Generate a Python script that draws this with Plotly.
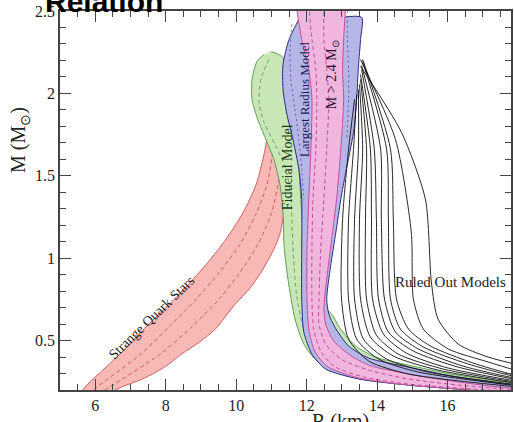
import plotly.graph_objects as go

# ---------------- Strange quark stars (red band) ----------------
quark_lo_R = [5.57, 5.71, 6.70, 7.46, 8.25, 8.96, 9.61, 10.17, 10.57, 10.82, 10.96, 11.07, 11.19]
quark_lo_M = [0.176, 0.218, 0.418, 0.588, 0.752, 0.915, 1.085, 1.267, 1.449, 1.661, 1.873, 2.055, 2.158]
quark_hi_R = [11.36, 11.47, 11.53, 11.53, 11.50, 11.35, 11.24, 11.07, 10.71, 10.37, 9.97, 9.41, 8.96, 8.45, 7.97, 7.34, 6.75, 6.36]
quark_hi_M = [2.206, 2.158, 1.964, 1.721, 1.479, 1.267, 1.145, 1.055, 0.915, 0.812, 0.721, 0.570, 0.491, 0.418, 0.339, 0.267, 0.218, 0.176]
quark_d1_R = [5.82, 6.05, 7.29, 8.11, 8.87, 9.52, 10.11, 10.56, 10.88, 11.05, 11.16, 11.21]
quark_d1_M = [0.176, 0.218, 0.418, 0.588, 0.752, 0.915, 1.085, 1.267, 1.449, 1.661, 1.873, 2.055]
quark_d2_R = [6.10, 6.41, 7.85, 8.76, 9.52, 10.11, 10.62, 10.99, 11.19, 11.30, 11.36, 11.36]
quark_d2_M = [0.176, 0.218, 0.418, 0.588, 0.752, 0.915, 1.085, 1.267, 1.449, 1.661, 1.873, 2.055]

# ---------------- Fiducial model (green band) ----------------
fid_in_R = [10.79, 10.59, 10.45, 10.45, 10.59, 10.82, 11.07, 11.24, 11.33, 11.36, 11.47, 11.67, 11.92, 12.29, 12.91, 13.76, 15.17, 16.58, 17.99]
fid_in_M = [2.236, 2.194, 2.085, 1.964, 1.855, 1.733, 1.600, 1.449, 1.279, 1.073, 0.873, 0.630, 0.479, 0.376, 0.303, 0.261, 0.224, 0.200, 0.176]
fid_out_R = [10.99, 11.30, 11.50, 11.64, 11.78, 11.92, 12.12, 12.40, 12.71, 12.96, 13.39, 13.95, 14.89, 16.10, 17.43, 18.28]
fid_out_M = [2.254, 2.224, 2.133, 1.903, 1.539, 1.115, 0.842, 0.721, 0.661, 0.570, 0.467, 0.400, 0.351, 0.297, 0.255, 0.230]
fid_d_R = [10.93, 10.70, 10.65, 10.79, 11.13, 11.41, 11.55, 11.61, 11.72, 11.92, 12.26, 12.83]
fid_d_M = [2.206, 2.085, 1.946, 1.824, 1.679, 1.539, 1.376, 1.073, 0.770, 0.570, 0.430, 0.339]

# ---------------- Largest radius model (blue band) ----------------
lrm_in_R = [11.78, 11.50, 11.33, 11.33, 11.44, 11.61, 11.78, 11.86, 11.86, 11.86, 11.92, 12.15, 12.54, 13.47, 14.89, 16.30, 17.99]
lrm_in_M = [2.449, 2.327, 2.176, 2.024, 1.873, 1.721, 1.539, 1.357, 1.055, 0.752, 0.552, 0.418, 0.327, 0.267, 0.230, 0.206, 0.182]
lrm_out_R = [12.99, 13.56, 13.53, 13.47, 13.42, 13.33, 13.11, 12.97, 12.83, 12.68, 12.57, 12.63, 12.80, 13.19, 13.76, 14.89, 16.10, 17.43, 18.28]
lrm_out_M = [2.461, 2.461, 2.327, 2.164, 1.964, 1.764, 1.521, 1.358, 1.158, 0.952, 0.752, 0.661, 0.582, 0.467, 0.394, 0.339, 0.285, 0.242, 0.218]
lrm_d1_R = [11.58, 11.53, 11.55, 11.67, 11.78, 11.86, 11.92]
lrm_d1_M = [2.418, 2.267, 2.085, 1.903, 1.721, 1.539, 1.358]
lrm_d2_R = [13.16, 13.16, 13.19, 13.19, 13.14]
lrm_d2_M = [2.503, 2.327, 2.145, 1.964, 1.721]

# ---------------- M > 2.4 Msun (pink band) ----------------
heavy_in_R = [11.70, 11.86, 12.06, 12.15, 12.12, 12.06, 12.01, 12.01, 12.06, 12.23, 12.57, 13.47, 14.89, 16.30, 17.99]
heavy_in_M = [2.539, 2.327, 2.145, 1.964, 1.661, 1.358, 1.055, 0.752, 0.570, 0.436, 0.345, 0.273, 0.230, 0.206, 0.182]
heavy_out_R = [13.11, 13.05, 13.02, 13.05, 12.97, 12.85, 12.71, 12.57, 12.49, 12.54, 12.77, 13.19, 13.76, 14.89, 16.10, 17.43, 18.28]
heavy_out_M = [2.539, 2.327, 2.145, 1.964, 1.661, 1.358, 1.115, 0.873, 0.691, 0.600, 0.497, 0.418, 0.351, 0.297, 0.255, 0.218, 0.200]
heavy_d1_R = [12.06, 12.15, 12.26, 12.29, 12.26, 12.18, 12.15, 12.15, 12.20, 12.40, 12.77, 13.61, 14.89, 16.30, 17.99]
heavy_d1_M = [2.539, 2.327, 2.145, 1.964, 1.661, 1.358, 1.055, 0.752, 0.570, 0.436, 0.345, 0.279, 0.236, 0.212, 0.188]
heavy_d2_R = [12.49, 12.49, 12.57, 12.63, 12.57, 12.49, 12.40, 12.35, 12.35, 12.54, 12.97, 13.76, 14.89, 16.30, 17.99]
heavy_d2_M = [2.539, 2.327, 2.145, 1.964, 1.661, 1.358, 1.055, 0.752, 0.600, 0.479, 0.388, 0.321, 0.267, 0.230, 0.200]

# ---------------- Ruled out equations of state (black) ----------------
ruled_R = [
    [13.36, 13.19, 13.02, 12.99, 13.19, 13.76, 14.89, 18.28],
    [13.42, 13.33, 13.19, 13.19, 13.42, 14.04, 15.17, 18.28],
    [13.47, 13.47, 13.36, 13.36, 13.61, 14.27, 15.45, 18.28],
    [13.50, 13.59, 13.50, 13.53, 13.81, 14.46, 15.73, 18.28],
    [13.53, 13.70, 13.67, 13.70, 13.98, 14.60, 15.88, 18.28],
    [13.53, 13.81, 13.84, 13.87, 14.18, 14.83, 16.02, 18.28],
    [13.56, 13.92, 13.98, 14.04, 14.32, 15.03, 16.30, 18.28],
    [13.56, 14.10, 14.12, 14.21, 14.52, 15.17, 16.44, 18.28],
    [13.59, 14.27, 14.32, 14.38, 14.66, 15.31, 16.58, 18.28],
    [13.59, 14.38, 14.46, 14.55, 14.89, 15.51, 16.72, 18.28],
    [13.53, 14.52, 14.97, 15.03, 15.31, 16.02, 17.15, 18.28],
    [13.53, 14.69, 15.37, 15.54, 15.73, 16.30, 17.15, 18.28],
]
ruled_M = [
    [1.964, 1.661, 1.236, 0.752, 0.509, 0.376, 0.297, 0.212],
    [1.994, 1.661, 1.236, 0.752, 0.509, 0.388, 0.309, 0.218],
    [2.024, 1.661, 1.236, 0.752, 0.509, 0.388, 0.309, 0.224],
    [2.055, 1.661, 1.236, 0.752, 0.521, 0.406, 0.321, 0.230],
    [2.085, 1.661, 1.236, 0.752, 0.533, 0.418, 0.327, 0.236],
    [2.115, 1.661, 1.236, 0.752, 0.539, 0.424, 0.333, 0.242],
    [2.145, 1.661, 1.236, 0.752, 0.552, 0.436, 0.339, 0.249],
    [2.170, 1.661, 1.236, 0.752, 0.552, 0.449, 0.345, 0.255],
    [2.194, 1.661, 1.236, 0.752, 0.570, 0.461, 0.358, 0.261],
    [2.206, 1.661, 1.236, 0.752, 0.570, 0.467, 0.364, 0.267],
    [2.206, 1.721, 1.158, 0.752, 0.570, 0.449, 0.370, 0.297],
    [2.164, 1.764, 1.358, 0.855, 0.630, 0.479, 0.400, 0.339],
]

SERIF = "Liberation Serif, Times New Roman, serif"
FINE_DASH = "4px,3px"

fig = go.Figure()


def band(r_in, m_in, r_out, m_out, fill, edge):
    fig.add_trace(go.Scatter(
        x=list(r_in) + list(r_out)[::-1],
        y=list(m_in) + list(m_out)[::-1],
        fill="toself", fillcolor=fill, mode="lines",
        line=dict(color=edge, width=1, shape="spline", smoothing=0.7),
        hoverinfo="skip", showlegend=False))


def curve(r, m, color, dash="solid", width=1.0):
    fig.add_trace(go.Scatter(
        x=r, y=m, mode="lines",
        line=dict(color=color, width=width, dash=dash, shape="spline", smoothing=0.7),
        hoverinfo="skip", showlegend=False))


# strange quark stars
band(quark_lo_R, quark_lo_M, quark_hi_R[::-1], quark_hi_M[::-1], "#f8b9b6", "#d0605c")
curve(quark_d1_R, quark_d1_M, "#d0605c", FINE_DASH)
curve(quark_d2_R, quark_d2_M, "#d0605c", FINE_DASH)

# fiducial model
band(fid_in_R, fid_in_M, fid_out_R, fid_out_M, "#c9e7b6", "#5c9e50")
curve(fid_d_R, fid_d_M, "#6aa860", FINE_DASH)

# largest radius model
band(lrm_in_R, lrm_in_M, lrm_out_R, lrm_out_M, "#b5b5e6", "#2c2c80")
curve(lrm_d1_R, lrm_d1_M, "#5a5ab0", "2px,3px")
curve(lrm_d2_R, lrm_d2_M, "#5a5ab0", "2px,3px")

# M > 2.4 Msun
band(heavy_in_R, heavy_in_M, heavy_out_R, heavy_out_M, "#f1b6de", "#c24fa0")
curve(heavy_d1_R, heavy_d1_M, "#c24fa0", FINE_DASH)
curve(heavy_d2_R, heavy_d2_M, "#c24fa0", FINE_DASH)

# ruled out models
for r, m in zip(ruled_R, ruled_M):
    curve(r, m, "#111111", "solid", 0.9)

labels = [
    dict(x=7.60, y=0.642, text="Strange Quark Stars", angle=-44, size=14, color="#222222"),
    dict(x=11.44, y=1.551, text="Fiducial Model", angle=-90, size=14, color="#1d3a1d"),
    dict(x=11.92, y=1.964, text="Largest Radius Model", angle=-90, size=13, color="#1c1c5a"),
    dict(x=12.74, y=2.115, text="M > 2.4 M<sub>⊙</sub>", angle=-90, size=14, color="#2a1030"),
    dict(x=16.07, y=0.855, text="Ruled Out Models", angle=0, size=15, color="#222222"),
]
for lab in labels:
    fig.add_annotation(x=lab["x"], y=lab["y"], xref="x", yref="y", text=lab["text"],
                       textangle=lab["angle"], showarrow=False,
                       font=dict(family=SERIF, size=lab["size"], color=lab["color"]))

# title and axis titles
fig.add_annotation(x=-0.037, y=0.975, xref="paper", yref="paper", xanchor="left", yanchor="bottom",
                   text="<b>Relation</b>", showarrow=False,
                   font=dict(family="Liberation Sans, Arial, sans-serif", size=30, color="black"))
fig.add_annotation(x=0.6225, y=-0.0475, xref="paper", yref="paper", xanchor="center", yanchor="top",
                   text="R (km)", showarrow=False, font=dict(family=SERIF, size=20, color="#222222"))
fig.add_annotation(x=-0.0883, y=0.66, xref="paper", yref="paper", xanchor="center", yanchor="middle",
                   text="M (M<sub>⊙</sub>)", textangle=-90, showarrow=False,
                   font=dict(family=SERIF, size=20, color="#222222"))

axis_common = dict(showline=True, linecolor="#444444", linewidth=1.5, mirror="ticks",
                   ticks="inside", ticklen=11, tickwidth=1, tickcolor="#444444",
                   showgrid=False, zeroline=False,
                   tickfont=dict(family=SERIF, size=16, color="#222222"))

fig.update_xaxes(range=[5, 17.8], tick0=0, dtick=2,
                 minor=dict(dtick=0.5, ticks="inside", ticklen=6, tickcolor="#444444"),
                 **axis_common)
fig.update_yaxes(range=[0.2, 2.5], tick0=0, dtick=0.5,
                 minor=dict(dtick=0.1, ticks="inside", ticklen=6, tickcolor="#444444"),
                 **axis_common)

fig.update_layout(width=514, height=422, margin=dict(l=60, r=1, t=11, b=32),
                  plot_bgcolor="white", paper_bgcolor="white")

fig.write_html("out.html")
